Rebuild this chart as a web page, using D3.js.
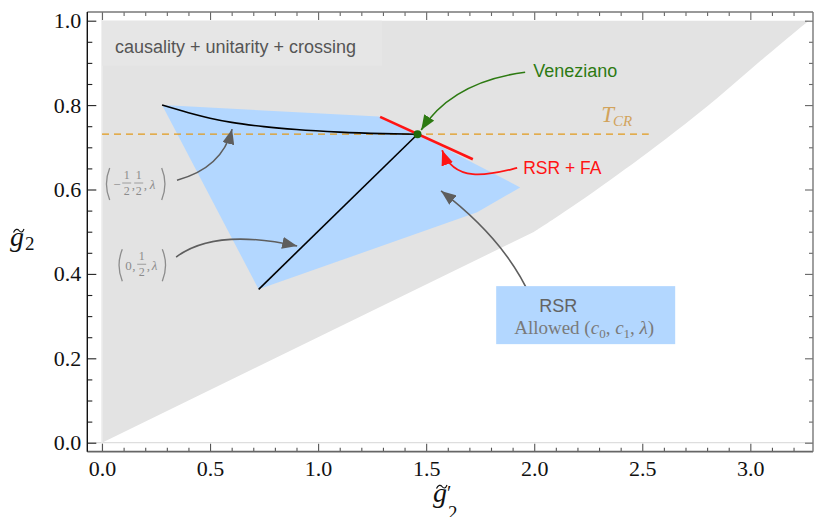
<!DOCTYPE html>
<html>
<head>
<meta charset="utf-8">
<script src="https://cdn.jsdelivr.net/npm/d3@7"></script>
<style>
  body { margin: 0; background: #fff; }
  svg { display: block; }
  .tick text { font-family: "Liberation Serif", "Times New Roman", serif; font-size: 22px; fill: #111; }
</style>
</head>
<body>
<svg id="chart"></svg>
<script>
// ================= DATA =================
const xMajorTicks = [0, 0.5, 1.0, 1.5, 2.0, 2.5, 3.0];
const yMajorTicks = [0, 0.2, 0.4, 0.6, 0.8, 1.0];
const xTickLabels = ['0.0', '0.5', '1.0', '1.5', '2.0', '2.5', '3.0'];
const yTickLabels = ['0.0', '0.2', '0.4', '0.6', '0.8', '1.0'];

// causality + unitarity + crossing region: upper edge, curved lower boundary, straight part to origin
const grayTop = [[0, 1.0], [3.27, 1.0]];
const grayCurve = [[3.27, 1.0], [3.05, 0.906], [2.85, 0.818], [2.65, 0.736], [2.49, 0.674],
                   [2.35, 0.622], [2.2, 0.568], [2.09, 0.530], [2.0, 0.5]];
const grayStraight = [[2.0, 0.5], [0, 0]];

// RSR allowed region (c0, c1, lambda)
const blueRegion = [[0.278, 0.8], [1.28, 0.773], [1.46, 0.731], [1.935, 0.605],
                    [1.736, 0.546], [0.725, 0.3635]];

// (-1/2, 1/2, lambda) curve
const curveHalf = [[0.278, 0.8], [0.4, 0.782], [0.5, 0.769], [0.6, 0.759], [0.75, 0.749],
                   [0.9, 0.742], [1.1, 0.736], [1.3, 0.7325], [1.46, 0.731]];
// (0, 1/2, lambda) line
const lineZero = [[0.725, 0.3635], [1.46, 0.731]];
// RSR + FA segment
const rsrFA = [[1.287, 0.772], [1.716, 0.6716]];

const veneziano = [1.46, 0.731];
const tCR = 0.731;
const tCRExtent = [0, 2.53];

// annotation arrows (data coordinates: tail, controls..., tip)
const arrowHalf = [[0.347, 0.622], [0.556, 0.651], [0.602, 0.743]];
const arrowZero = [[0.343, 0.440], [0.523, 0.509], [0.903, 0.466]];
const arrowRSR = [[1.981, 0.3477], [1.866, 0.480], [1.569, 0.5965]];
const arrowVen = [[1.958, 0.878], [1.620, 0.855], [1.477, 0.741]];
const arrowFA = [[1.921, 0.651], [1.819, 0.639], [1.634, 0.608], [1.574, 0.693]];

// ================= LAYOUT =================
const width = 814, height = 517;
const plot = { left: 87.3, right: 813, top: 12, bottom: 451.7 };

const x = d3.scaleLinear().domain([-0.068, 3.29]).range([plot.left, plot.right]);
const y = d3.scaleLinear().domain([-0.0213, 1.0206]).range([plot.bottom, plot.top]);

const svg = d3.select('#chart').attr('width', width).attr('height', height);

const defs = svg.append('defs');
function marker(id, color, len, wid) {
  defs.append('marker')
      .attr('id', id)
      .attr('markerUnits', 'userSpaceOnUse')
      .attr('viewBox', `0 ${-wid / 2} ${len} ${wid}`)
      .attr('refX', len)
      .attr('refY', 0)
      .attr('markerWidth', len)
      .attr('markerHeight', wid)
      .attr('orient', 'auto')
    .append('path')
      .attr('d', `M0,${-wid / 2}L${len},0L0,${wid / 2}Z`)
      .attr('fill', color);
}
marker('ah-gray', '#5e5e5e', 15, 12);
marker('ah-green', '#2d7a12', 15, 12);
marker('ah-red', '#ff1414', 15, 12);

const line = d3.line().x(d => x(d[0])).y(d => y(d[1]));
const smooth = d3.line().x(d => x(d[0])).y(d => y(d[1])).curve(d3.curveCatmullRom);
const mono = d3.line().x(d => x(d[0])).y(d => y(d[1])).curve(d3.curveMonotoneX);

//-------gray region
svg.append('path')
    .attr('d', line(grayTop) + smooth(grayCurve).replace(/^M/, 'L')
               + line(grayStraight).replace(/^M/, 'L') + 'Z')
    .attr('fill', '#e3e3e3');

// light axis lines at 0
svg.append('line')
    .attr('x1', plot.left).attr('x2', plot.right)
    .attr('y1', y(0)).attr('y2', y(0))
    .attr('stroke', '#dedede').attr('stroke-width', 1.2);
svg.append('line')
    .attr('x1', x(0)).attr('x2', x(0))
    .attr('y1', plot.top).attr('y2', plot.bottom)
    .attr('stroke', '#ececec').attr('stroke-width', 1.5);

//-------label box for the gray region
svg.append('rect')
    .attr('x', x(0)).attr('y', y(1.0))
    .attr('width', 280).attr('height', 45)
    .attr('fill', '#e6e6e6');
svg.append('text')
    .attr('x', x(0) + 13).attr('y', y(1.0) + 32)
    .attr('font-family', '"Liberation Sans", Arial, sans-serif')
    .attr('font-size', 18)
    .attr('fill', '#555')
    .text('causality + unitarity + crossing');

//-------blue region
svg.append('path')
    .attr('d', line(blueRegion) + 'Z')
    .attr('fill', '#b3d7ff');

//-------T_CR dashed line
svg.append('line')
    .attr('x1', x(tCRExtent[0])).attr('x2', x(tCRExtent[1]))
    .attr('y1', y(tCR)).attr('y2', y(tCR))
    .attr('stroke', '#e29a1c').attr('stroke-width', 1.3)
    .attr('stroke-dasharray', '7,5');

//-------black curves
svg.append('path')
    .attr('d', mono(curveHalf))
    .attr('fill', 'none').attr('stroke', '#000').attr('stroke-width', 1.6);
svg.append('path')
    .attr('d', line(lineZero))
    .attr('fill', 'none').attr('stroke', '#000').attr('stroke-width', 1.6);

//-------red RSR+FA segment
svg.append('path')
    .attr('d', line(rsrFA))
    .attr('fill', 'none').attr('stroke', '#ff1414').attr('stroke-width', 2.6);

//-------Veneziano point
svg.append('circle')
    .attr('cx', x(veneziano[0])).attr('cy', y(veneziano[1]))
    .attr('r', 4).attr('fill', '#1f6b0c');

//-------arrows
function quad(p) {
  return `M${x(p[0][0])},${y(p[0][1])}Q${x(p[1][0])},${y(p[1][1])} ${x(p[2][0])},${y(p[2][1])}`;
}
function cubic(p) {
  return `M${x(p[0][0])},${y(p[0][1])}C${x(p[1][0])},${y(p[1][1])} ${x(p[2][0])},${y(p[2][1])} ${x(p[3][0])},${y(p[3][1])}`;
}
[arrowHalf, arrowZero, arrowRSR].forEach(a => {
  svg.append('path').attr('d', quad(a))
     .attr('fill', 'none').attr('stroke', '#5e5e5e').attr('stroke-width', 1.6)
     .attr('marker-end', 'url(#ah-gray)');
});
svg.append('path').attr('d', quad(arrowVen))
   .attr('fill', 'none').attr('stroke', '#2d7a12').attr('stroke-width', 1.6)
   .attr('marker-end', 'url(#ah-green)');
svg.append('path').attr('d', cubic(arrowFA))
   .attr('fill', 'none').attr('stroke', '#ff1414').attr('stroke-width', 1.8)
   .attr('marker-end', 'url(#ah-red)');

//-------text labels
const sans = '"Liberation Sans", Arial, sans-serif';
const serif = '"Liberation Serif", "Times New Roman", serif';

svg.append('text')
    .attr('x', x(arrowVen[0][0]) + 8).attr('y', y(arrowVen[0][1]) + 5)
    .attr('font-family', sans).attr('font-size', 18).attr('fill', '#2d7a12')
    .text('Veneziano');
svg.append('text')
    .attr('x', x(arrowFA[0][0]) + 6).attr('y', y(arrowFA[0][1]) + 6)
    .attr('font-family', sans).attr('font-size', 17.5).attr('fill', '#ff1414')
    .text('RSR + FA');

// T_CR
const tcrLabel = svg.append('text')
    .attr('x', x(2.31)).attr('y', y(tCR) - 12)
    .attr('font-family', serif).attr('font-style', 'italic')
    .attr('fill', '#d2a35c');
tcrLabel.append('tspan').attr('font-size', 23).text('T');
tcrLabel.append('tspan').attr('font-size', 15).attr('dx', -1).attr('dy', 4).text('CR');

// RSR box
const boxX = x(1.824), boxY = y(0.371);
svg.append('rect')
    .attr('x', boxX).attr('y', boxY)
    .attr('width', 179).attr('height', 58)
    .attr('fill', '#b3d7ff');
svg.append('text')
    .attr('x', boxX + 62).attr('y', boxY + 26)
    .attr('text-anchor', 'middle')
    .attr('font-family', sans).attr('font-size', 18).attr('fill', '#636363')
    .text('RSR');
const allowed = svg.append('text')
    .attr('x', boxX + 18).attr('y', boxY + 48)
    .attr('font-family', serif).attr('font-size', 19).attr('fill', '#7a7a7a');
allowed.append('tspan').text('Allowed (');
allowed.append('tspan').attr('font-style', 'italic').text('c');
allowed.append('tspan').attr('font-size', 13).attr('dy', 4).text('0');
allowed.append('tspan').attr('dy', -4).text(', ');
allowed.append('tspan').attr('font-style', 'italic').text('c');
allowed.append('tspan').attr('font-size', 13).attr('dy', 4).text('1');
allowed.append('tspan').attr('dy', -4).text(', ');
allowed.append('tspan').attr('font-style', 'italic').text('λ');
allowed.append('tspan').text(')');

// tuple labels with stacked fractions
const tupleColor = '#8c8c8c';
function tuple(gx, gy, parts) {
  const g = svg.append('g').attr('transform', `translate(${gx},${gy})`)
      .attr('font-family', serif).attr('fill', tupleColor);
  parts.forEach(p => {
    if (p.type === 'open') {
      g.append('path').attr('d', `M${p.x + 5},-16Q${p.x - 1.5},0 ${p.x + 5},16`)
       .attr('fill', 'none').attr('stroke', tupleColor).attr('stroke-width', 1.3);
    } else if (p.type === 'close') {
      g.append('path').attr('d', `M${p.x},-16Q${p.x + 6.5},0 ${p.x},16`)
       .attr('fill', 'none').attr('stroke', tupleColor).attr('stroke-width', 1.3);
    } else if (p.type === 'frac') {
      g.append('text').attr('x', p.x).attr('y', -5.5).attr('text-anchor', 'middle')
       .attr('font-size', 12).text('1');
      g.append('line').attr('x1', p.x - 4.5).attr('x2', p.x + 4.5).attr('y1', -1).attr('y2', -1)
       .attr('stroke', tupleColor).attr('stroke-width', 0.8);
      g.append('text').attr('x', p.x).attr('y', 10.5).attr('text-anchor', 'middle')
       .attr('font-size', 12).text('2');
    } else {
      g.append('text').attr('x', p.x).attr('y', 5)
       .attr('font-size', p.size || 13)
       .attr('font-style', p.italic ? 'italic' : null)
       .text(p.t);
    }
  });
}
tuple(x(0.0125), y(0.613), [
  { type: 'open', x: 0 },
  { x: 8.5, t: '−' },
  { type: 'frac', x: 22 },
  { x: 27, t: ',' },
  { type: 'frac', x: 34 },
  { x: 39, t: ',' },
  { x: 45, t: 'λ', italic: true },
  { type: 'close', x: 57 }
]);
tuple(x(0.0708), y(0.4205), [
  { type: 'open', x: 0 },
  { x: 8, t: '0' },
  { x: 15, t: ',' },
  { type: 'frac', x: 24.4 },
  { x: 29.5, t: ',' },
  { x: 34.5, t: 'λ', italic: true },
  { type: 'close', x: 45 }
]);

// ================= AXES / FRAME =================
const xMinor = d3.range(0, 3.3, 0.1).filter(v => Math.abs(v * 2 - Math.round(v * 2)) > 1e-6);
const yMinor = d3.range(0, 1.01, 0.05).filter(v => Math.abs(v * 5 - Math.round(v * 5)) > 1e-6);

function styleAxis(g, color) {
  g.select('.domain').remove();
  g.selectAll('.tick line').attr('stroke', color).attr('stroke-width', 1.1);
}

// bottom
svg.append('g').attr('transform', `translate(0,${plot.bottom})`)
   .call(d3.axisBottom(x).tickValues(xMajorTicks).tickFormat((d, i) => xTickLabels[i])
         .tickSizeInner(-8).tickSizeOuter(0).tickPadding(9))
   .call(g => styleAxis(g, '#555'))
   .call(g => g.selectAll('text').attr('dy', '0.71em'));
svg.append('g').attr('transform', `translate(0,${plot.bottom})`)
   .call(d3.axisBottom(x).tickValues(xMinor).tickFormat('').tickSizeInner(-4).tickSizeOuter(0))
   .call(g => styleAxis(g, '#555'));
// top
svg.append('g').attr('transform', `translate(0,${plot.top})`)
   .call(d3.axisTop(x).tickValues(xMajorTicks).tickFormat('').tickSizeInner(-8).tickSizeOuter(0))
   .call(g => styleAxis(g, '#666'));
svg.append('g').attr('transform', `translate(0,${plot.top})`)
   .call(d3.axisTop(x).tickValues(xMinor).tickFormat('').tickSizeInner(-4).tickSizeOuter(0))
   .call(g => styleAxis(g, '#666'));
// left
svg.append('g').attr('transform', `translate(${plot.left},0)`)
   .call(d3.axisLeft(y).tickValues(yMajorTicks).tickFormat((d, i) => yTickLabels[i])
         .tickSizeInner(-9).tickSizeOuter(0).tickPadding(6))
   .call(g => styleAxis(g, '#222'));
svg.append('g').attr('transform', `translate(${plot.left},0)`)
   .call(d3.axisLeft(y).tickValues(yMinor).tickFormat('').tickSizeInner(-5).tickSizeOuter(0))
   .call(g => styleAxis(g, '#222'));
// right
svg.append('g').attr('transform', `translate(${plot.right},0)`)
   .call(d3.axisRight(y).tickValues(yMajorTicks).tickFormat('').tickSizeInner(-8).tickSizeOuter(0))
   .call(g => styleAxis(g, '#666'));
svg.append('g').attr('transform', `translate(${plot.right},0)`)
   .call(d3.axisRight(y).tickValues(yMinor).tickFormat('').tickSizeInner(-4).tickSizeOuter(0))
   .call(g => styleAxis(g, '#666'));

// frame lines
svg.append('line').attr('x1', plot.left).attr('x2', plot.right).attr('y1', plot.top).attr('y2', plot.top)
   .attr('stroke', '#777').attr('stroke-width', 1.4);
svg.append('line').attr('x1', plot.left).attr('x2', plot.right).attr('y1', plot.bottom).attr('y2', plot.bottom)
   .attr('stroke', '#666').attr('stroke-width', 1.8);
svg.append('line').attr('x1', plot.left).attr('x2', plot.left).attr('y1', plot.top).attr('y2', plot.bottom)
   .attr('stroke', '#111').attr('stroke-width', 1.4);
svg.append('line').attr('x1', plot.right).attr('x2', plot.right).attr('y1', plot.top).attr('y2', plot.bottom)
   .attr('stroke', '#777').attr('stroke-width', 1.4);

// axis titles g~2 and g~'2 (tilde drawn as a small stroke)
function gTitle(tx, ty, prime) {
  const g = svg.append('g').attr('transform', `translate(${tx},${ty})`)
      .attr('font-family', serif).attr('fill', '#111');
  g.append('text').attr('x', 0).attr('y', 0).attr('font-size', 28).attr('font-style', 'italic').text('g');
  g.append('path')
   .attr('d', 'M3.5,-13.5C5,-17 7.5,-17.5 9,-15.5C10.5,-13.5 12.5,-13 14,-17')
   .attr('fill', 'none').attr('stroke', '#111').attr('stroke-width', 1.2);
  if (prime) g.append('text').attr('x', 14).attr('y', -2).attr('font-size', 20).text('′');
  g.append('text').attr('x', 15).attr('y', prime ? 17 : 4).attr('font-size', 19).text('2');
}
gTitle(10, 246, false);
gTitle(433, 502, true);
</script>
</body>
</html>
